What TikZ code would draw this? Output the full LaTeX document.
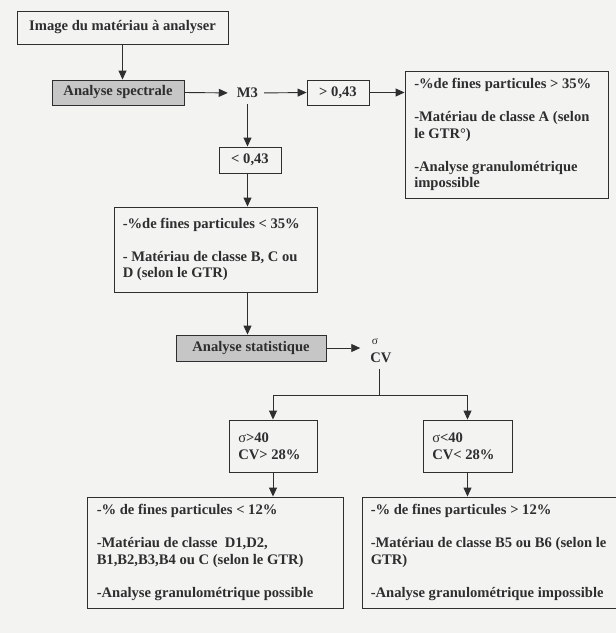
\documentclass[tikz,border=0pt]{standalone}
\usepackage{fontspec}
\setmainfont{Liberation Serif}
\usetikzlibrary{arrows.meta}
\definecolor{ink}{HTML}{2E2E2E}
\definecolor{paper}{HTML}{F3F3F2}
\definecolor{shade}{HTML}{C6C6C6}
\begin{document}
\begin{tikzpicture}[x=1pt,y=-1pt,
  txt/.style={font=\bfseries\fontsize{14.6}{16.6}\selectfont, text=ink, inner sep=0pt},
  frame/.style={draw=ink, line width=0.9pt, inner sep=0pt},
  cbox/.style={frame, txt, inner sep=0pt, align=center},
  gbox/.style={cbox, fill=shade},
  ltxt/.style={txt, align=left, anchor=west},
  arr/.style={draw=ink, line width=0.9pt, -{Triangle[length=9pt,width=8pt]}},
  ln/.style={draw=ink, line width=0.9pt}]
\useasboundingbox (0,0) rectangle (616,633);
\fill[paper] (0,0) rectangle (616,633);

% top chain
\node[cbox, minimum width=211pt, minimum height=33pt] (img) at (122.5,27.5) {Image du matériau à analyser};
\node[gbox, minimum width=132pt, minimum height=25pt] (spec) at (118,92.5) {Analyse spectrale};
\node[txt] (m3) at (247.5,93) {M3};
\node[cbox, minimum width=62pt, minimum height=25pt] (gt) at (338,92.5) {> 0,43};
\node[frame, minimum width=203pt, minimum height=127pt] (boxA) at (506.5,134.5) {};
\node[ltxt] (tA) at ([xshift=9.5pt]boxA.west) {-\%de fines particules > 35\%\\[16.6pt]-Matériau de classe A (selon\\le GTR°)\\[16.6pt]-Analyse granulométrique\\impossible};

\node[cbox, minimum width=62pt, minimum height=26pt] (lt) at (250,160) {< 0,43};
\node[frame, minimum width=203pt, minimum height=85pt] (boxB) at (215.5,249.5) {};
\node[ltxt] (tB) at ([xshift=9pt]boxB.west) {-\%de fines particules < 35\%\\[16.6pt]- Matériau de classe B, C ou\\D (selon le GTR)};

\node[gbox, minimum width=150pt, minimum height=26pt] (stat) at (251,348) {Analyse statistique};
\node[txt, font=\fontsize{11.5}{12}\selectfont] (sig) at (375,341.5) {σ};
\node[txt] (cv) at (381,358) {CV};
\coordinate (fork) at (379,395);

\node[frame, minimum width=88pt, minimum height=52pt] (s1) at (273,446) {};
\node[ltxt] at ([xshift=9.5pt]s1.west) {{\mdseries σ}>40\\CV> 28\%};
\node[frame, minimum width=89pt, minimum height=52pt] (s2) at (467.5,446) {};
\node[ltxt] at ([xshift=9.5pt]s2.west) {{\mdseries σ}<40\\CV< 28\%};

\node[frame, minimum width=256pt, minimum height=111pt] (bl) at (215,552.5) {};
\node[ltxt] at ([xshift=10pt]bl.west) {-\% de fines particules < 12\%\\[16.6pt]-Matériau de classe\ \ D1,D2,\\B1,B2,B3,B4 ou C (selon le GTR)\\[16.6pt]-Analyse granulométrique possible};
\node[frame, minimum width=268pt, minimum height=111pt] (br) at (496,552.5) {};
\node[ltxt] at ([xshift=9pt]br.west) {-\% de fines particules > 12\%\\[16.6pt]-Matériau de classe B5 ou B6 (selon le\\GTR)\\[16.6pt]-Analyse granulométrique impossible};

% connectors
\draw[arr] (img.south) -- (img.south |- spec.north);
\draw[arr, shorten >=9pt] (spec.east) -- (m3.west);
\draw[arr, shorten <=6pt] (m3.east) -- (gt.west);
\draw[arr] (gt.east) -- (gt.east -| boxA.west);
\draw[arr, shorten <=6pt] (m3.south) -- (m3.south |- lt.north);
\draw[arr] (m3.south |- lt.south) -- (m3.south |- boxB.north);
\draw[arr] (m3.south |- boxB.south) -- (m3.south |- stat.north);
\draw[arr, shorten >=10pt] (stat.east) -- (stat.east -| cv.west);
\draw[ln, shorten <=6pt] (fork |- cv.south) -- (fork);
\draw[arr] (fork) -| (s1.north);
\draw[arr] (fork) -| (s2.north);
\draw[arr] (s1.south) -- (s1.south |- bl.north);
\draw[arr] (s2.south) -- (s2.south |- br.north);
\end{tikzpicture}
\end{document}
